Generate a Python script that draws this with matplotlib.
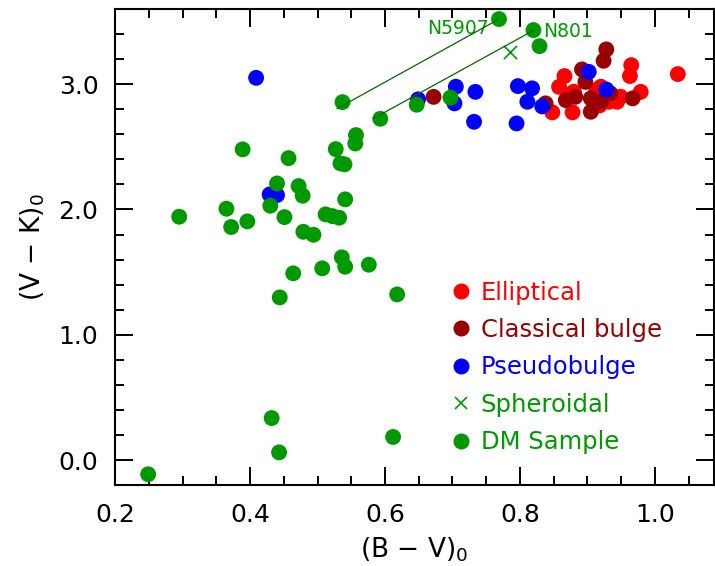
import numpy as np
import matplotlib.pyplot as plt
from matplotlib.lines import Line2D
from matplotlib.ticker import MultipleLocator

plt.rcParams['font.family'] = ['DejaVu Sans']
plt.rcParams['mathtext.default'] = 'regular'

# Elliptical
ell_bv = [1.034, 0.965, 0.963, 0.866, 0.858, 0.979, 0.944, 0.848, 0.878, 0.880,
          0.920, 0.932, 0.949, 0.876, 0.913, 0.918]
ell_vk = [3.081, 3.152, 3.065, 3.065, 2.979, 2.939, 2.860, 2.775, 2.775, 2.940,
          2.980, 2.860, 2.900, 2.920, 2.950, 2.830]

# Classical bulge
cb_bv = [0.928, 0.924, 0.892, 0.897, 0.868, 0.882, 0.905, 0.905, 0.920, 0.934,
         0.967, 0.838, 0.672]
cb_vk = [3.278, 3.187, 3.118, 3.019, 2.873, 2.899, 2.887, 2.780, 2.860, 2.927,
         2.887, 2.847, 2.899]

# Pseudobulge
pb_bv = [0.409, 0.429, 0.440, 0.649, 0.705, 0.703, 0.734, 0.732, 0.797, 0.818,
         0.811, 0.795, 0.833, 0.902, 0.928]
pb_vk = [3.051, 2.120, 2.115, 2.879, 2.980, 2.847, 2.939, 2.700, 2.985, 2.967,
         2.860, 2.687, 2.823, 3.099, 2.958]

# Spheroidal
sph_bv = [0.786]
sph_vk = [3.258]

# DM sample
dm_bv = [0.537, 0.593, 0.557, 0.556, 0.527, 0.389, 0.457, 0.534, 0.540, 0.440,
         0.472, 0.478, 0.430, 0.541, 0.365, 0.295, 0.396, 0.372, 0.451, 0.512,
         0.522, 0.532, 0.479, 0.494, 0.536, 0.541, 0.507, 0.576, 0.464, 0.444,
         0.618, 0.432, 0.443, 0.612, 0.249, 0.769, 0.820, 0.829, 0.647, 0.697]
dm_vk = [2.857, 2.724, 2.594, 2.527, 2.482, 2.480, 2.410, 2.368, 2.360, 2.208,
         2.187, 2.110, 2.030, 2.081, 2.006, 1.942, 1.905, 1.860, 1.939, 1.961,
         1.947, 1.934, 1.822, 1.798, 1.618, 1.543, 1.530, 1.559, 1.490, 1.298,
         1.322, 0.335, 0.061, 0.184, -0.114, 3.520, 3.432, 3.304, 2.836, 2.893]

# N5907 / N801 shift lines
shift_names = ['N5907', 'N801']
shift_bv0 = [0.529, 0.583]
shift_vk0 = [2.805, 2.727]
shift_bv1 = [0.766, 0.819]
shift_vk1 = [3.511, 3.426]

red = '#ff0000'
dred = '#990000'
blue = '#0000ff'
green = '#009900'

fig = plt.figure(figsize=(7.15, 5.66), dpi=100)
ax = fig.add_axes([0.161, 0.143, 0.837, 0.841])

ms = 130
ax.scatter(ell_bv, ell_vk, s=ms, color=red, edgecolors='none', zorder=2)
ax.scatter(cb_bv, cb_vk, s=ms, color=dred, edgecolors='none', zorder=3)
ax.scatter(pb_bv, pb_vk, s=ms, color=blue, edgecolors='none', zorder=4)
ax.scatter(dm_bv, dm_vk, s=ms, color=green, edgecolors='none', zorder=5)
ax.scatter(sph_bv, sph_vk, s=90, marker='x', color=green, linewidths=1.2, zorder=6)

for i in range(len(shift_names)):
    ax.plot([shift_bv0[i], shift_bv1[i]], [shift_vk0[i], shift_vk1[i]],
            color='#006600', lw=0.9, zorder=6)
ax.text(shift_bv1[0] - 0.012, shift_vk1[0] - 0.07, shift_names[0], color=green,
        fontsize=13.5, ha='right', va='center')
ax.text(shift_bv1[1] + 0.015, shift_vk1[1] - 0.005, shift_names[1], color=green,
        fontsize=13.5, ha='left', va='center')

ax.set_xlim(0.2, 1.087)
ax.set_ylim(-0.2, 3.6)
ax.xaxis.set_major_locator(MultipleLocator(0.2))
ax.xaxis.set_minor_locator(MultipleLocator(0.05))
ax.yaxis.set_major_locator(MultipleLocator(1.0))
ax.yaxis.set_minor_locator(MultipleLocator(0.2))
ax.xaxis.set_major_formatter(lambda v, p: f'{v:.1f}')
ax.yaxis.set_major_formatter(lambda v, p: f'{v:.1f}')
ax.tick_params(which='both', direction='in', top=True, right=True, width=1.4,
               labelsize=18)
ax.tick_params(axis='x', which='major', length=13, pad=13)
ax.tick_params(axis='y', which='major', length=13, pad=12)
ax.tick_params(which='minor', length=6.5)
for sp in ax.spines.values():
    sp.set_linewidth(1.5)

ax.set_xlabel('(B $-$ V)$_0$', fontsize=19, labelpad=6)
ax.set_ylabel('(V $-$ K)$_0$', fontsize=19, labelpad=8)

handles = [
    Line2D([], [], marker='o', ls='none', color=red, ms=10.5),
    Line2D([], [], marker='o', ls='none', color=dred, ms=10.5),
    Line2D([], [], marker='o', ls='none', color=blue, ms=10.5),
    Line2D([], [], marker='x', ls='none', color=green, ms=9, mew=1.2),
    Line2D([], [], marker='o', ls='none', color=green, ms=10.5),
]
labels = ['Elliptical', 'Classical bulge', 'Pseudobulge', 'Spheroidal', 'DM Sample']
leg = ax.legend(handles, labels, loc='upper left', bbox_to_anchor=(0.542, 0.455),
                frameon=False, fontsize=17.5, handlelength=0.8, handletextpad=0.4,
                labelspacing=0.55, borderpad=0,
                labelcolor=[red, dred, blue, green, green])

fig.savefig('out.png', dpi=100)
